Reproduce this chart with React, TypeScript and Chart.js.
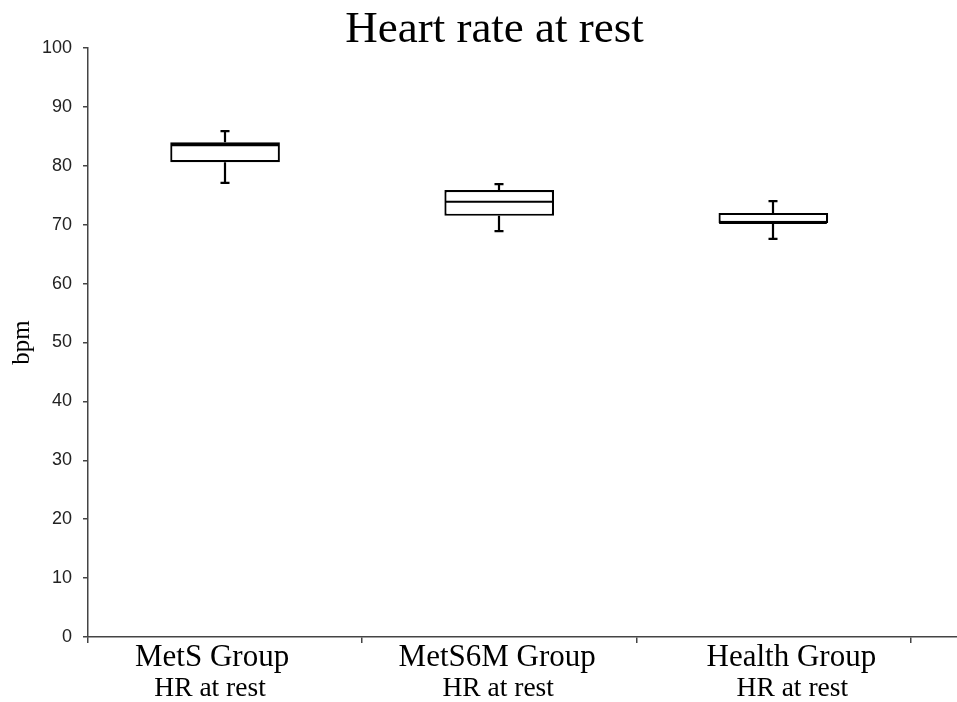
import React, { useEffect, useRef } from 'react';
import { Chart, registerables } from 'chart.js';

Chart.register(...registerables);

// ---- data ----
const TITLE = 'Heart rate at rest';
const Y_TITLE = 'bpm';
const GROUPS = ['MetS Group', 'MetS6M Group', 'Health Group'];
const SUBLABELS = ['HR at rest', 'HR at rest', 'HR at rest'];
const Q1 = [80.6, 71.5, 70.3];
const Q3 = [84.0, 75.9, 72.0];
const MEDIAN = [83.5, 73.9, 70.3];
const WHISKER_MIN = [77.1, 68.9, 67.6];
const WHISKER_MAX = [85.9, 76.9, 74.0];
const Y_TICKS = [0, 10, 20, 30, 40, 50, 60, 70, 80, 90, 100];
const X_BOUNDARIES = [-0.5, 0.5, 1.5, 2.5];

// label nudges (px) to match the reference's label placement
const LABEL_NUDGE = [-13, -2, 18];
const SUBLABEL_NUDGE = [-15, -1, 19];

const AXIS_COLOR = '#444444';

const boxPlugin = {
  id: 'boxWhiskers',
  afterDatasetsDraw(chart: any) {
    const { ctx } = chart;
    const xs = chart.scales.x;
    const ys = chart.scales.y;
    ctx.save();
    ctx.strokeStyle = '#000';
    ctx.lineWidth = 2.2;
    ctx.lineCap = 'butt';
    const half = (xs.getPixelForValue(1) - xs.getPixelForValue(0)) * 0.4 / 2 - 1;
    const cap = 4.5;
    for (let i = 0; i < Q1.length; i++) {
      const x = Math.round(xs.getPixelForValue(i));
      const yq1 = ys.getPixelForValue(Q1[i]);
      const yq3 = ys.getPixelForValue(Q3[i]);
      const ymed = ys.getPixelForValue(MEDIAN[i]);
      const ymin = ys.getPixelForValue(WHISKER_MIN[i]);
      const ymax = ys.getPixelForValue(WHISKER_MAX[i]);
      ctx.beginPath();
      ctx.moveTo(x, yq3);
      ctx.lineTo(x, ymax);
      ctx.moveTo(x - cap, ymax);
      ctx.lineTo(x + cap, ymax);
      ctx.moveTo(x, yq1);
      ctx.lineTo(x, ymin);
      ctx.moveTo(x - cap, ymin);
      ctx.lineTo(x + cap, ymin);
      ctx.moveTo(x - half, ymed);
      ctx.lineTo(x + half, ymed);
      ctx.stroke();
    }
    ctx.restore();
  },
};

const labelPlugin = {
  id: 'groupLabels',
  afterDraw(chart: any) {
    const { ctx } = chart;
    const xs = chart.scales.x;
    ctx.save();
    ctx.fillStyle = '#000';
    ctx.textAlign = 'center';
    ctx.textBaseline = 'alphabetic';
    for (let i = 0; i < GROUPS.length; i++) {
      const x = xs.getPixelForValue(i);
      ctx.font = '31px "Liberation Serif", "Times New Roman", serif';
      ctx.fillText(GROUPS[i], x + LABEL_NUDGE[i], xs.top + 29);
      ctx.font = '27.5px "Liberation Serif", "Times New Roman", serif';
      ctx.fillText(SUBLABELS[i], x + SUBLABEL_NUDGE[i], xs.top + 59);
    }
    ctx.restore();
  },
};

export default function App() {
  const ref = useRef<HTMLCanvasElement | null>(null);

  useEffect(() => {
    if (!ref.current) return;
    const chart = new Chart(ref.current, {
      type: 'bar',
      data: {
        datasets: [
          {
            label: TITLE,
            data: Q1.map((q, i) => ({ x: i, y: [q, Q3[i]] })) as any,
            backgroundColor: '#ffffff',
            borderColor: '#000000',
            borderWidth: 2.2,
            borderSkipped: false,
            barPercentage: 0.4,
            categoryPercentage: 1,
          },
        ],
      },
      options: {
        animation: false,
        responsive: true,
        maintainAspectRatio: false,
        layout: { padding: { left: 0, right: -32, top: 0, bottom: 0 } },
        plugins: {
          legend: { display: false },
          tooltip: { enabled: false },
          title: {
            display: true,
            text: TITLE,
            color: '#000',
            font: { family: '"Liberation Serif", "Times New Roman", serif', size: 45, weight: 'normal', lineHeight: 0.9 },
            padding: { top: 10, bottom: -2.5 },
          },
        },
        scales: {
          x: {
            type: 'linear',
            position: 'bottom',
            offset: false,
            min: -0.5,
            max: 2.67,
            afterBuildTicks: (s: any) => {
              s.ticks = X_BOUNDARIES.map((v) => ({ value: v }));
            },
            afterFit: (s: any) => {
              s.height = 65;
            },
            ticks: { callback: () => '', autoSkip: false },
            grid: { display: true, offset: false, drawOnChartArea: false, drawTicks: true, tickLength: 6, color: AXIS_COLOR, lineWidth: 1.5 },
            border: { display: true, color: AXIS_COLOR, width: 1.5 },
          },
          y: {
            type: 'linear',
            min: 0,
            max: 100,
            afterBuildTicks: (s: any) => {
              s.ticks = Y_TICKS.map((v) => ({ value: v }));
            },
            afterFit: (s: any) => {
              s.width = 88;
            },
            ticks: {
              color: '#222',
              padding: 11,
              font: { family: '"Liberation Sans", Arial, sans-serif', size: 18 },
            },
            grid: { display: true, drawOnChartArea: false, drawTicks: true, tickLength: 5, color: AXIS_COLOR, lineWidth: 1.5 },
            border: { display: true, color: AXIS_COLOR, width: 1.5 },
            title: {
              display: true,
              text: Y_TITLE,
              color: '#000',
              font: { family: '"Liberation Serif", "Times New Roman", serif', size: 25, lineHeight: 1.2 },
              padding: { top: 7, bottom: 0 },
            },
          },
        },
      },
      plugins: [boxPlugin, labelPlugin],
    });
    return () => chart.destroy();
  }, []);

  return (
    <div style={{ position: 'absolute', left: 0, top: 0, width: 957, height: 702, background: '#fff' }}>
      <canvas ref={ref} />
    </div>
  );
}
